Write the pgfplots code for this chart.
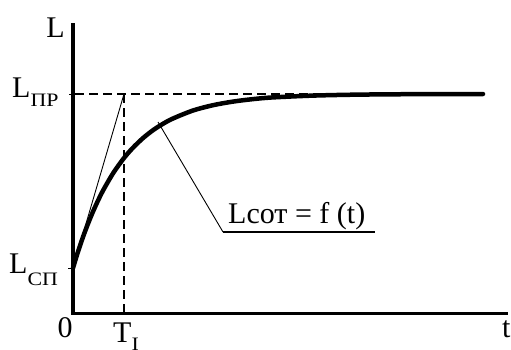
\documentclass[border=0pt]{standalone}
\usepackage{fontspec}
\setmainfont{Liberation Serif}
\usepackage{graphicx}
\usepackage{pgfplots}
\pgfplotsset{compat=1.18}
\newcommand{\bigf}{\fontsize{30}{36}\selectfont}
\newcommand{\subf}{\fontsize{19}{22}\selectfont}
\newcommand{\sub}[2]{\raisebox{#1}{\scalebox{1.15}[1]{\subf #2}}}
\begin{document}
\begin{tikzpicture}
\useasboundingbox (0,0) rectangle (511pt,349pt);
\begin{axis}[
  at={(0pt,0pt)}, anchor=south west,
  x=1pt, y=1pt,
  xmin=-73, xmax=438, ymin=-36, ymax=313,
  hide axis, clip=false,
]
% axes
\addplot[black, line width=4pt, line cap=butt] coordinates {(0,-1.5) (0,290)};
\addplot[black, line width=3pt, line cap=butt] coordinates {(-2,0) (435,0)};
% ticks
\addplot[black, line width=1pt] coordinates {(-4,219) (0,219)};
\addplot[black, line width=1pt] coordinates {(-5,45) (0,45)};
% dashed guides
\addplot[black, line width=1.3pt, dash pattern=on 9pt off 5pt] coordinates {(2,219) (300,219)};
\addplot[black, line width=1.3pt, dash pattern=on 9pt off 5pt] coordinates {(51,219) (51,0)};
% tangent
\addplot[black, line width=0.9pt] coordinates {(0,45) (51,219)};
% leader line
\addplot[black, line width=0.9pt] coordinates {(85,191) (150,81)};
\addplot[black, line width=1.3pt] coordinates {(150,81) (302,81)};
% curve
\addplot[black, line width=4.5pt, smooth, line cap=round] coordinates {
(0,45) (5,61.3) (10,76.0) (15,89.3) (20,101.4) (25,112.4) (30,122.4)
(40,139.6) (51,155.0) (60,165.3) (70,174.9) (80,182.8) (90,189.2)
(100,194.5) (120,202.5) (140,207.8) (160,211.4) (180,213.9) (200,215.6)
(240,217.4) (280,218.3) (320,218.7) (360,218.9) (410,219)};
% labels
\node[anchor=base east, inner sep=0pt, font=\bigf] at (axis cs:-8,276) {L};
\node[anchor=base west, inner sep=0pt, font=\bigf] at (axis cs:-61,216) {L\sub{-9pt}{ПР}};
\node[anchor=base west, inner sep=0pt, font=\bigf] at (axis cs:-64,40) {L\sub{-12pt}{СП}};
\node[anchor=base, inner sep=0pt, font=\bigf] at (axis cs:-8,-24) {0};
\node[anchor=base west, inner sep=0pt, font=\bigf] at (axis cs:40,-29) {T\sub{-8pt}{I}};
\node[anchor=base west, inner sep=0pt, font=\bigf] at (axis cs:429,-24) {t};
\node[anchor=base west, inner sep=0pt, font=\bigf] at (axis cs:155,90) {Lсот = f (t)};
\end{axis}
\end{tikzpicture}
\end{document}
